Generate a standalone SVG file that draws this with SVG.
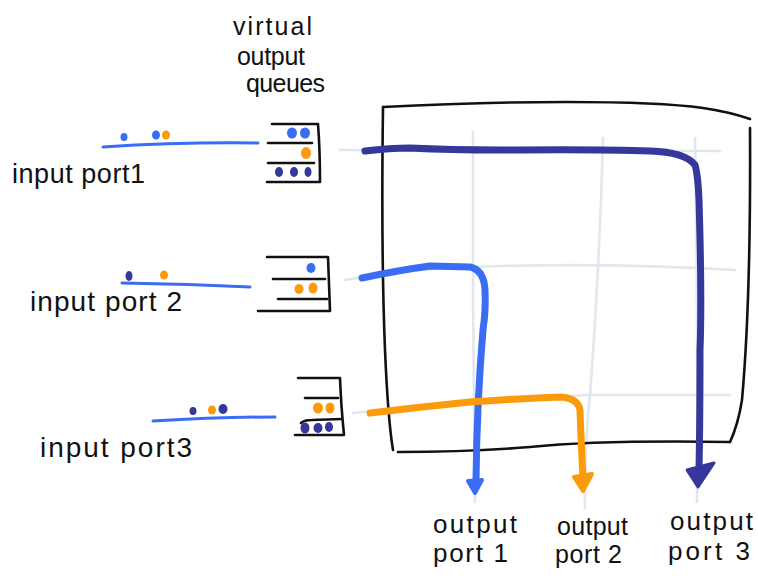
<svg xmlns="http://www.w3.org/2000/svg" width="758" height="581" viewBox="0 0 758 581">
  <defs>
    <style>
      .ink{fill:none;stroke:#111;stroke-width:2.6;stroke-linecap:round;stroke-linejoin:round}
      .grid{fill:none;stroke:#e1e7ec;stroke-width:2.6;stroke-linecap:round}
      .wire{fill:none;stroke:#3a6cf4;stroke-width:3;stroke-linecap:round}
      .lbl{font-family:"Liberation Sans","DejaVu Sans",sans-serif;fill:#111}
      .b{fill:#3a6cf4}.o{fill:#fb9a0a}.d{fill:#35379a}
      .path{fill:none;stroke-width:7;stroke-linecap:round;stroke-linejoin:round}
    </style>
  </defs>
  <rect width="758" height="581" fill="#fff"/>

  <g id="switch-fabric">
    <path class="grid" d="M340,150 L720,151"/>
    <path class="grid" d="M345,280 Q420,268 473,267 Q600,262 735,270"/>
    <path class="grid" d="M353,413 Q470,400 588,395 L730,395"/>
    <path class="grid" d="M473,132 L473,300 Q474,420 475,502"/>
    <path class="grid" d="M603,138 Q600,260 590,395 Q584,450 585,508"/>
    <path class="grid" d="M695,138 Q698,320 697,502"/>
    <path class="ink" d="M383,107 Q480,102 567,102 Q660,102 703,108 Q730,112 750,119"/>
    <path class="ink" d="M750,128 Q751,300 742,400 Q738,425 730,442"/>
    <path class="ink" d="M383,107 Q381,250 385,350 Q388,420 393,450"/>
    <path class="ink" d="M398,452 Q470,452 530,447 Q600,440 730,442"/>
  </g>

  <g id="vo-queues-label">
    <text class="lbl" x="233" y="35" font-size="25" textLength="79">virtual</text>
    <text class="lbl" x="237" y="65" font-size="25" textLength="68">output</text>
    <text class="lbl" x="246" y="92" font-size="25" textLength="79">queues</text>
  </g>

  <g id="input-port-1">
    <path class="wire" d="M103,147 Q180,142 258,143"/>
    <ellipse class="b" cx="124" cy="137" rx="3.5" ry="4"/>
    <ellipse class="b" cx="156" cy="135" rx="4" ry="4.5"/>
    <ellipse class="o" cx="166" cy="135" rx="4" ry="4.5"/>
    <text class="lbl" x="12" y="183" font-size="27" textLength="133">input port1</text>
  </g>
  <g id="voq-1">
    <path class="ink" d="M272,124 L318,124 Q320,150 320,182 L267,182"/>
    <path class="ink" d="M268,143 L312,143"/>
    <path class="ink" d="M268,163 L314,163"/>
    <ellipse class="b" cx="292" cy="133" rx="5" ry="5.5"/>
    <ellipse class="b" cx="305" cy="133" rx="5" ry="5.5"/>
    <ellipse class="o" cx="306" cy="153" rx="5" ry="6"/>
    <ellipse class="d" cx="279" cy="172" rx="4" ry="5"/>
    <ellipse class="d" cx="294" cy="172" rx="4" ry="5"/>
    <ellipse class="d" cx="308" cy="172" rx="3.5" ry="5"/>
  </g>

  <g id="input-port-2">
    <path class="wire" d="M122,283 Q190,284 250,287"/>
    <ellipse class="d" cx="129" cy="276" rx="3.5" ry="5"/>
    <ellipse class="o" cx="164" cy="275" rx="4" ry="4.5"/>
    <text class="lbl" x="30" y="311" font-size="28" textLength="152">input port 2</text>
  </g>
  <g id="voq-2">
    <path class="ink" d="M267,257 L328,257 Q329,285 330,311 L258,311"/>
    <path class="ink" d="M273,279 L325,279"/>
    <path class="ink" d="M278,299 L327,299"/>
    <ellipse class="b" cx="311" cy="268" rx="4.5" ry="5"/>
    <ellipse class="o" cx="299" cy="289" rx="4.5" ry="5"/>
    <ellipse class="o" cx="313" cy="288" rx="4.5" ry="5.5"/>
  </g>

  <g id="input-port-3">
    <path class="wire" d="M153,421 Q220,417 275,417"/>
    <ellipse class="d" cx="193" cy="411" rx="3.5" ry="4"/>
    <ellipse class="o" cx="212" cy="410" rx="4" ry="4.5"/>
    <ellipse class="d" cx="223" cy="409" rx="4.5" ry="5"/>
    <text class="lbl" x="40" y="457" font-size="28" textLength="152">input port3</text>
  </g>
  <g id="voq-3">
    <path class="ink" d="M298,378 L340,378 Q341,405 344,435 L295,435"/>
    <path class="ink" d="M305,398 L338,398"/>
    <path class="ink" d="M301,423 Q304,420 312,420 L342,419"/>
    <ellipse class="o" cx="318" cy="408" rx="5" ry="5.5"/>
    <ellipse class="o" cx="330" cy="408" rx="4.5" ry="5.5"/>
    <ellipse class="d" cx="305" cy="428" rx="4.5" ry="5.5"/>
    <ellipse class="d" cx="318" cy="428" rx="4.5" ry="5"/>
    <ellipse class="d" cx="329" cy="427" rx="4" ry="5"/>
  </g>

  <g id="connectors">
    <path class="path" stroke="#35379a" d="M365,151 Q390,148 410,148 Q450,150 500,150 Q600,149 650,151 Q685,152 695,165 Q698,175 699,200 Q702,300 700,350 Q700,420 699,470"/>
    <path class="d" d="M687,470 L714,463 L698,487 Z" stroke="#35379a" stroke-width="3" stroke-linejoin="round"/>
    <path class="path" stroke="#3a6cf4" d="M362,278 Q400,270 430,266 L470,267 Q484,270 485,290 Q486,310 483,330 Q477,400 476,480"/>
    <path class="b" d="M468,481 L482,480 L475,493 Z" stroke="#3a6cf4" stroke-width="4" stroke-linejoin="round"/>
    <path class="path" stroke="#fb9a0a" d="M370,413 Q420,407 470,402 Q530,398 560,397 Q578,398 580,410 Q581,440 583,478"/>
    <path class="o" d="M574,477 L592,474 L583,491 Z" stroke="#fb9a0a" stroke-width="4" stroke-linejoin="round"/>
  </g>

  <g id="output-port-1">
    <text class="lbl" x="433" y="533" font-size="26" textLength="84">output</text>
    <text class="lbl" x="433" y="562" font-size="26" textLength="75">port 1</text>
  </g>
  <g id="output-port-2">
    <text class="lbl" x="557" y="535" font-size="25" textLength="71">output</text>
    <text class="lbl" x="555" y="563" font-size="25" textLength="67">port 2</text>
  </g>
  <g id="output-port-3">
    <text class="lbl" x="670" y="530" font-size="26" textLength="83">output</text>
    <text class="lbl" x="668" y="560" font-size="26" textLength="82">port 3</text>
  </g>
</svg>
